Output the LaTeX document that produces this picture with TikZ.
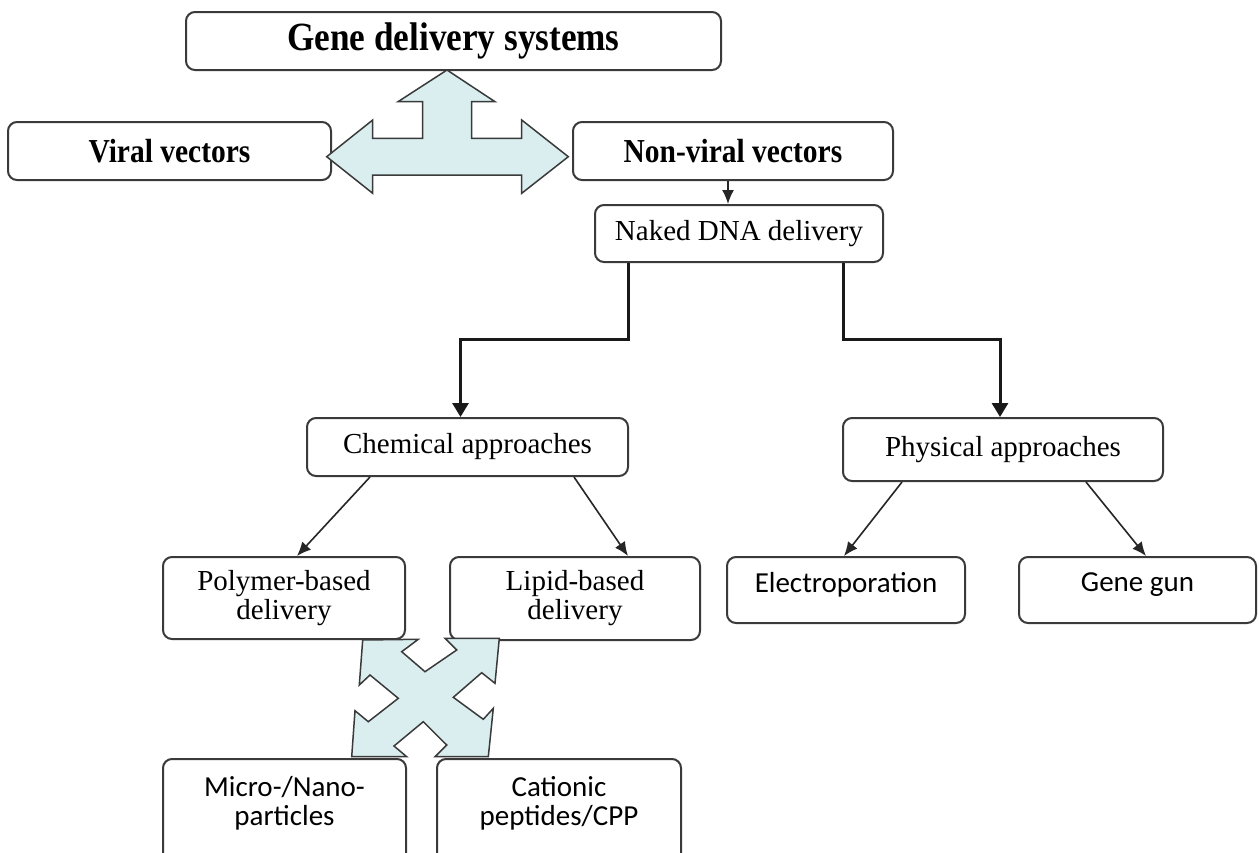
\documentclass[tikz,border=0pt]{standalone}
\usepackage{fontspec}
\setmainfont{Liberation Serif}
\newfontfamily\calib{Carlito}
\newfontfamily\narrowserif[FakeStretch=0.88]{Liberation Serif}
\usetikzlibrary{arrows.meta}
\definecolor{arrowfill}{HTML}{DAEEF0}
\definecolor{edgegray}{HTML}{3A3A3A}
\begin{document}
\begin{tikzpicture}[x=1pt,y=-1pt,
  box/.style={draw=edgegray, line width=2pt, rounded corners=9pt, inner sep=0pt, fill=white},
  titletxt/.style={font=\narrowserif\fontsize{40}{40}\selectfont\bfseries},
  boldtxt/.style={font=\narrowserif\fontsize{33.5}{34}\selectfont\bfseries},
  serif/.style={font=\fontsize{29}{29}\selectfont, align=center},
  sans/.style={font=\calib\fontsize{29}{29}\selectfont, align=center},
  thinarrow/.style={draw=black!85, line width=1.6pt, -{Latex[length=14pt,width=12pt]}},
  thickarrow/.style={draw=black!90, line width=3pt, -{Triangle[length=14pt,width=16pt]}},
  blockarrow/.style={fill=arrowfill, draw=edgegray, line width=1.5pt, line join=miter}
]
\clip (0,0) rectangle (1259,852);
\fill[white] (0,0) rectangle (1259,852);

% boxes
\node[box, titletxt, minimum width=535pt, minimum height=58pt] (gds) at (453.5,41) {Gene delivery systems};
\node[box, boldtxt, minimum width=323pt, minimum height=58pt] (viral) at (169.5,151) {Viral vectors};
\node[box, boldtxt, minimum width=320pt, minimum height=58pt] (nonviral) at (733,151) {Non-viral vectors};
\node[box, serif, minimum width=288pt, minimum height=57pt] (naked) at (739,233.5) {Naked DNA delivery};
\node[box, serif, minimum width=321pt, minimum height=58pt] (chem) at (467.5,447) {Chemical approaches};
\node[box, serif, minimum width=320pt, minimum height=63pt] (phys) at (1003,449.5) {Physical approaches};
\node[box, serif, minimum width=242pt, minimum height=82pt] (poly) at (284,598) {Polymer-based\\delivery};
\node[box, serif, minimum width=250pt, minimum height=83pt] (lipid) at (575,598.5) {Lipid-based\\delivery};
\node[box, minimum width=238pt, minimum height=66pt] (electro) at (846,590) {};
\node[box, minimum width=237pt, minimum height=66pt] (gene) at (1137.5,590) {};
\node[sans] (electrotxt) at (846,585) {Electroporation};
\node[sans] (genetxt) at (1137.5,585) {Gene gun};
\node[box, minimum width=243pt, minimum height=140pt, anchor=north] (micro) at (284.5,758) {};
\node[box, minimum width=244pt, minimum height=140pt, anchor=north] (cation) at (559,758) {};
\node[sans] (microtxt) at (284.5,803) {Micro-/Nano-\\particles};
\node[sans] (cationtxt) at (559,803) {Cationic\\peptides/CPP};

% connectors
\draw[thinarrow] ([xshift=-5pt]nonviral.south) -- ([xshift=-11pt]naked.north);
\draw[thickarrow] ([xshift=-111pt]naked.south) -- ++(0,76) -| ([xshift=-7pt]chem.north);
\draw[thickarrow] ([xshift=104pt]naked.south) -- ++(0,76) -| ([xshift=-3pt]phys.north);
\draw[thinarrow] ([xshift=64pt]chem.south west) -- ([xshift=135pt]poly.north west);
\draw[thinarrow] ([xshift=268pt]chem.south west) -- ([xshift=179pt]lipid.north west);
\draw[thinarrow] ([xshift=60pt]phys.south west) -- ([xshift=118pt]electro.north west);
\draw[thinarrow] ([xshift=244pt]phys.south west) -- ([xshift=128pt]gene.north west);

% three-way block arrow
\draw[blockarrow] (447,70) -- (495,101.7) -- (471.7,101.7) -- (471.7,138.3) -- (521.7,138.3)
  -- (521.7,120) -- (568.3,156.7) -- (521.7,193.3) -- (521.7,175) -- (372.7,175)
  -- (372.7,193.3) -- (326.7,156.7) -- (372.7,120) -- (372.7,138.3) -- (422.7,138.3)
  -- (422.7,101.7) -- (398,101.7) -- cycle;

% four-way diagonal block arrow
\draw[blockarrow] (362.7,640) -- (418.3,639.3) -- (401.7,651.7) -- (425,671.7) -- (456.7,650)
  -- (445,638.3) -- (499.3,638.3) -- (495,683.3) -- (481.7,672.7) -- (453.3,697.3)
  -- (483.3,719.3) -- (493.3,708.3) -- (488.3,756.7) -- (435,756.7) -- (446.7,745)
  -- (423.3,721.7) -- (394,746) -- (406.7,756.7) -- (351.7,756.7) -- (355,710.7)
  -- (368.3,721.7) -- (398.3,698.3) -- (370,675) -- (359.3,685) -- cycle;
\end{tikzpicture}
\end{document}
